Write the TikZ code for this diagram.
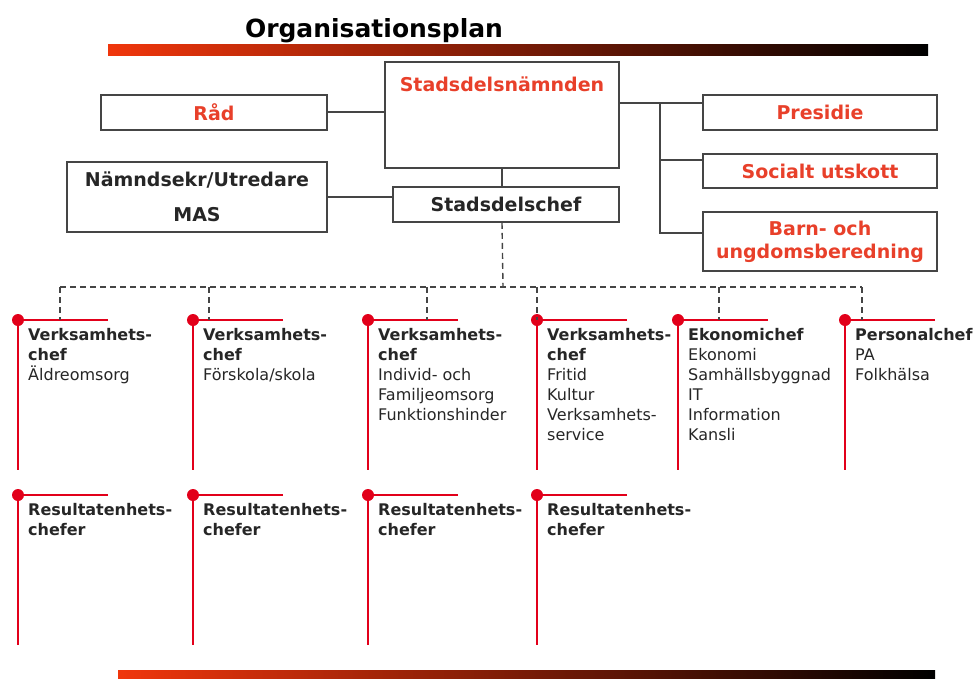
\documentclass[tikz,border=0pt]{standalone}
\usepackage{fontspec}
\setmainfont{DejaVu Sans}
\usetikzlibrary{positioning}
\definecolor{r}{HTML}{E8402A}
\definecolor{R}{HTML}{E2001A}
\definecolor{g}{HTML}{454545}
\definecolor{t}{HTML}{262626}
\definecolor{barA}{HTML}{F0360C}

\begin{document}
\begin{tikzpicture}[x=1pt,y=-1pt,font=\fontsize{16}{20}\selectfont,text=t,
  box/.style={draw=g,line width=1.6pt,minimum width=226pt,minimum height=35pt,
    inner sep=0pt,align=center,font=\fontsize{19}{23}\selectfont\bfseries},
  redlbl/.style={text=r},
  conn/.style={draw=g,line width=1.6pt},
  dsh/.style={draw=g,line width=1.4pt,dash pattern=on 6pt off 4pt},
  rline/.style={draw=R,line width=2.8pt},
  coltxt/.style={anchor=north west,inner sep=0pt,align=left}]
  \useasboundingbox (0,0) rectangle (977,678);
  % title and bars
  \node[anchor=base,inner sep=0pt,text=black] (title) at (374,37)
    {\fontsize{25}{30}\selectfont\bfseries Organisationsplan};
  \shade[left color=barA,right color=black] (108,44) rectangle (928,55);
  \shade[left color=barA,right color=black] (118,670) rectangle (935,678);
  % top boxes
  \node[box,minimum width=234pt,minimum height=106pt] (sdn) at (502,115) {};
  \node[redlbl,font=\fontsize{19}{23}\selectfont\bfseries] (sdntxt) at (502,84) {Stadsdelsnämnden};
  \node[box,redlbl] (rad) at (214,112.5) {Råd};
  \node[box,minimum width=260pt,minimum height=70pt] (nsek) at (197,197)
    {Nämndsekr/Utredare\\[12pt]MAS};
  \node[box] (sdc) at (506,204.5) {Stadsdelschef};
  \node[box,redlbl,minimum width=234pt] (pres) at (820,112.5) {Presidie};
  \node[box,redlbl,minimum width=234pt,minimum height=34pt] (soc) at (820,171) {Socialt utskott};
  \node[box,redlbl,minimum width=234pt,minimum height=59pt] (barn) at (820,241.5)
    {Barn- och\\ungdomsberedning};
  \coordinate (jr) at (660,103);
  \draw[conn] ([yshift=0.5pt]rad.east) -- ([yshift=0.5pt]rad.east -| sdn.west);
  \draw[conn] (nsek) -- (nsek -| sdc.west);
  \draw[conn] (sdn.south) -- (sdn.south |- sdc.north);
  \draw[conn] (jr -| sdn.east) -- (jr -| pres.west);
  \draw[conn] (jr) |- ([yshift=11pt]soc.west);
  \draw[conn] (jr) |- ([yshift=8.5pt]barn.west);
  % chefs
  \coordinate (bus) at (503,287);
  \foreach \dx/\jx/\txt [count=\i] in {
    18/60/{\textbf{Verksamhets-}\\\textbf{chef}\\Äldreomsorg},
    193/209/{\textbf{Verksamhets-}\\\textbf{chef}\\Förskola/skola},
    368/427/{\textbf{Verksamhets-}\\\textbf{chef}\\Individ- och\\Familjeomsorg\\Funktionshinder},
    537/537/{\textbf{Verksamhets-}\\\textbf{chef}\\Fritid\\Kultur\\Verksamhets-\\service},
    678/719/{\textbf{Ekonomichef}\\Ekonomi\\Samhällsbyggnad\\IT\\Information\\Kansli},
    845/862/{\textbf{Personalchef}\\PA\\Folkhälsa}}{
    \coordinate (d\i) at (\dx,320);
    \coordinate (t\i) at (\jx,320);
    \draw[rline] ([xshift=90pt]d\i) -- (d\i) -- ++(0,150);
    \fill[R] (d\i) circle (6pt);
    \node[coltxt] (v\i) at (\dx+10,328) {\txt};
    \draw[dsh] (t\i |- bus) -- (t\i);
  }
  \draw[dsh] (sdn.south |- sdc.south) -- (bus);
  \draw[dsh] (t1 |- bus) -- (t6 |- bus);
  \foreach \dx [count=\i] in {18,193,368,537}{
    \coordinate (e\i) at (\dx,495);
    \draw[rline] ([xshift=90pt]e\i) -- (e\i) -- ++(0,150);
    \fill[R] (e\i) circle (6pt);
    \node[coltxt] (re\i) at (\dx+10,503) {\textbf{Resultatenhets-}\\\textbf{chefer}};
  }
\end{tikzpicture}
\end{document}
